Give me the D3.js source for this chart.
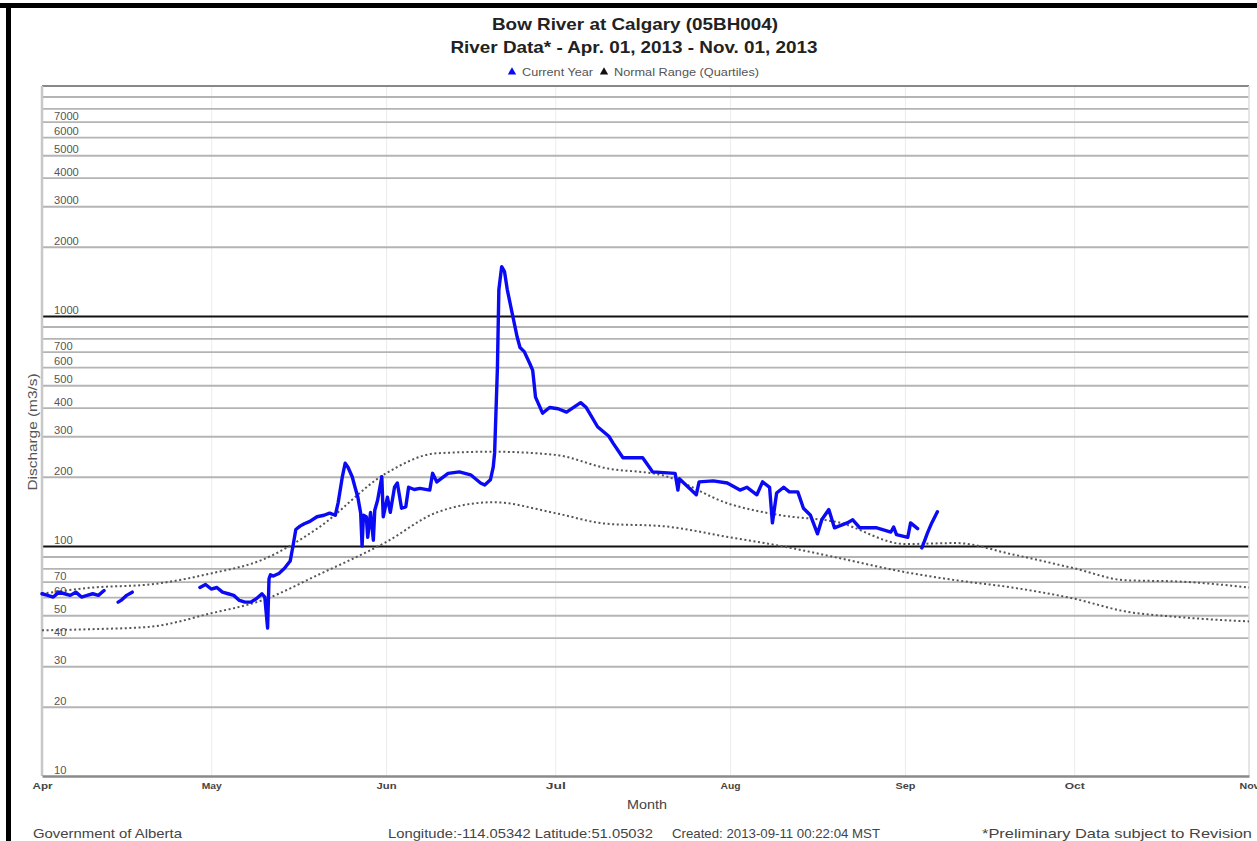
<!DOCTYPE html>
<html lang="en">
<head>
<meta charset="utf-8">
<title>Bow River at Calgary (05BH004)</title>
<script src="https://cdn.jsdelivr.net/npm/d3@7"></script>
<style>
  body { margin: 0; background: #fff; }
  svg { display: block; font-family: "Liberation Sans", Arial, sans-serif; }
</style>
</head>
<body>
<div id="chart"></div>
<script>
// ---- data ----
// current year discharge (m3/s); null marks a gap in the record
var flowTimes = [
  "2013-04-01 00","2013-04-02 00","2013-04-03 00","2013-04-04 00","2013-04-05 00","2013-04-06 00",
  "2013-04-07 00","2013-04-08 00","2013-04-09 00","2013-04-10 00","2013-04-11 00","2013-04-12 00",
  "2013-04-13 00",
  "2013-04-14 12","2013-04-15 00","2013-04-16 00","2013-04-17 00",
  "2013-04-22 00",
  "2013-04-29 00","2013-04-30 00","2013-05-01 00","2013-05-02 00","2013-05-03 00","2013-05-04 00",
  "2013-05-05 00","2013-05-06 00","2013-05-07 00","2013-05-08 00","2013-05-09 00","2013-05-10 00",
  "2013-05-10 12","2013-05-11 00","2013-05-11 06","2013-05-11 12","2013-05-12 00","2013-05-13 00",
  "2013-05-14 00","2013-05-15 00","2013-05-15 12","2013-05-16 00","2013-05-16 18","2013-05-17 12",
  "2013-05-18 12","2013-05-19 18","2013-05-21 00","2013-05-22 00","2013-05-23 00","2013-05-23 12",
  "2013-05-24 06","2013-05-24 18","2013-05-25 06","2013-05-26 00","2013-05-26 12","2013-05-27 00",
  "2013-05-27 12","2013-05-27 18","2013-05-28 00","2013-05-28 12","2013-05-28 18","2013-05-29 06",
  "2013-05-29 18","2013-05-30 00","2013-05-30 12","2013-05-31 06","2013-05-31 12","2013-06-01 06",
  "2013-06-01 18","2013-06-02 12","2013-06-03 00","2013-06-03 18","2013-06-04 12","2013-06-05 00",
  "2013-06-06 00","2013-06-07 00","2013-06-08 18","2013-06-09 06","2013-06-10 00","2013-06-12 00",
  "2013-06-14 00","2013-06-16 00","2013-06-17 18","2013-06-18 12","2013-06-19 12","2013-06-20 00",
  "2013-06-20 06","2013-06-20 18","2013-06-21 00","2013-06-21 12","2013-06-22 00","2013-06-22 12",
  "2013-06-23 12","2013-06-24 06","2013-06-24 18","2013-06-25 12","2013-06-26 12","2013-06-27 00",
  "2013-06-27 12","2013-06-28 18","2013-06-30 00","2013-07-01 12","2013-07-03 00","2013-07-05 12",
  "2013-07-06 12","2013-07-08 12","2013-07-10 12","2013-07-11 06","2013-07-13 00","2013-07-16 12",
  "2013-07-17 18","2013-07-18 06","2013-07-22 06","2013-07-22 18","2013-07-23 00","2013-07-26 00",
  "2013-07-26 12","2013-07-29 00","2013-07-31 12","2013-08-02 18","2013-08-04 00","2013-08-05 18",
  "2013-08-06 18","2013-08-08 00","2013-08-08 12","2013-08-09 06","2013-08-10 12","2013-08-11 12",
  "2013-08-13 00","2013-08-14 00","2013-08-15 06","2013-08-16 12","2013-08-17 06","2013-08-18 12",
  "2013-08-19 12","2013-08-21 18","2013-08-22 18","2013-08-24 00","2013-08-27 00","2013-08-29 12",
  "2013-08-30 00","2013-08-30 12","2013-09-01 12","2013-09-02 00","2013-09-03 06",
  "2013-09-03 18",
  "2013-09-04 00","2013-09-05 00","2013-09-05 18","2013-09-06 18"
];
var flowValues = [
  62, 61, 60, 63, 62, 61,
  63, 60, 61, 62, 61, 64,
  null,
  57, 58, 61, 63,
  null,
  66, 68, 65, 66, 63, 62,
  61, 58, 57, 57, 59, 62,
  60, 44, 72, 75, 74, 76,
  80, 86, 100, 118, 122, 125,
  128, 134, 136, 139, 136, 154,
  200, 229, 220, 200, 180, 163,
  139, 100, 136, 134, 109, 140,
  106, 143, 158, 200, 134, 163,
  140, 180, 188, 146, 148, 180,
  176, 178, 175, 207, 190, 207,
  210, 204, 188, 184, 194, 220,
  254, 600, 1300, 1640, 1560, 1300,
  990, 810, 730, 700, 620, 580,
  444, 378, 400, 395, 382, 420,
  400, 330, 300, 280, 242, 242,
  219, 210, 207, 175, 196, 167,
  190, 192, 188, 175, 180, 167,
  190, 180, 126, 170, 180, 172,
  172, 146, 136, 113, 130, 144,
  120, 126, 130, 120, 120, 115,
  121, 112, 109, 126, 119,
  null,
  98, 114, 126, 141
];

// normal range (quartiles)
var quartileDates = [
  "2013-04-01","2013-04-10","2013-04-20","2013-05-01","2013-05-10","2013-05-20",
  "2013-06-01","2013-06-10","2013-06-20","2013-07-01","2013-07-10","2013-07-20",
  "2013-08-01","2013-08-10","2013-08-20","2013-09-01","2013-09-10","2013-09-20",
  "2013-10-01","2013-10-10","2013-10-20","2013-11-01"
];
var upperQuartile = [62, 66, 68, 76, 87, 120, 207, 253, 257, 249, 218, 203, 152, 136, 127, 102, 103, 92, 80, 71, 70, 66];
var lowerQuartile = [43, 43.5, 44.5, 51, 58, 75, 104, 140, 155, 139, 125, 122, 109, 100, 89, 77, 71, 66, 59, 52, 49, 47];

var gridValues = [20, 30, 40, 50, 60, 70, 80, 90, 100, 200, 300, 400, 500, 600, 700, 800, 900,
                  1000, 2000, 3000, 4000, 5000, 6000, 7000, 8000, 9000];
var labelValues = [10, 20, 30, 40, 50, 60, 70, 100, 200, 300, 400, 500, 600, 700,
                   1000, 2000, 3000, 4000, 5000, 6000, 7000];
var majorValues = [100, 1000];
var monthStarts = ["2013-04-01","2013-05-01","2013-06-01","2013-07-01","2013-08-01",
                   "2013-09-01","2013-10-01","2013-11-01"];

// ---- layout ----
var width = 1257, height = 841;
var plot = { left: 42, right: 1249, top: 86, bottom: 776 };

var parseTime = d3.utcParse("%Y-%m-%d %H");
var parseDay = d3.utcParse("%Y-%m-%d");

var flow = flowTimes.map(function (t, i) { return { date: parseTime(t), value: flowValues[i] }; });
var upper = quartileDates.map(function (t, i) { return { date: parseDay(t), value: upperQuartile[i] }; });
var lower = quartileDates.map(function (t, i) { return { date: parseDay(t), value: lowerQuartile[i] }; });
var months = monthStarts.map(parseDay);

var x = d3.scaleUtc()
  .domain([months[0], months[months.length - 1]])
  .range([plot.left, plot.right]);
var y = d3.scaleLog()
  .domain([10, 10000])
  .range([plot.bottom, plot.top]);

var svg = d3.select("#chart").append("svg")
  .attr("width", width)
  .attr("height", height);

svg.append("rect").attr("width", width).attr("height", height).attr("fill", "#fff");

// the source image is a bit wider than its fonts, so text is stretched to the measured widths
function stretched(sel, len) {
  return sel.attr("textLength", len).attr("lengthAdjust", "spacingAndGlyphs");
}

// faint month gridlines
svg.append("g")
  .attr("transform", "translate(0," + plot.bottom + ")")
  .call(d3.axisBottom(x).tickValues(months.slice(1, -1)).tickSize(-(plot.bottom - plot.top)).tickFormat(""))
  .call(function (g) {
    g.select(".domain").remove();
    g.selectAll("line").attr("stroke", "#ececec").attr("stroke-width", 1);
  });

// horizontal gridlines (log)
svg.append("g")
  .attr("transform", "translate(" + plot.left + ",0)")
  .call(d3.axisLeft(y).tickValues(gridValues).tickSize(-(plot.right - plot.left)).tickFormat(""))
  .call(function (g) {
    g.select(".domain").remove();
    g.selectAll(".tick line")
      .attr("stroke", function (d) { return majorValues.indexOf(d) >= 0 ? "#111" : "#b4b4b4"; })
      .attr("stroke-width", function (d) { return majorValues.indexOf(d) >= 0 ? 2.2 : 1.8; });
  });

// plot frame: top, left, right
svg.append("line").attr("x1", plot.left).attr("x2", plot.right).attr("y1", plot.top).attr("y2", plot.top)
  .attr("stroke", "#888").attr("stroke-width", 2);
svg.append("line").attr("x1", plot.left).attr("x2", plot.left).attr("y1", plot.top).attr("y2", plot.bottom)
  .attr("stroke", "#c8c8c8").attr("stroke-width", 2.5);
svg.append("line").attr("x1", plot.right).attr("x2", plot.right).attr("y1", plot.top).attr("y2", plot.bottom)
  .attr("stroke", "#dcdcdc").attr("stroke-width", 1.5);

// y labels sit just above their gridline
svg.append("g").selectAll("text")
  .data(labelValues)
  .join("text")
  .attr("x", plot.left + 12)
  .attr("y", function (d) { return y(d) - 2; })
  .attr("font-size", 10)
  .attr("fill", "#555")
  .text(function (d) { return d; })
  .each(function (d) { stretched(d3.select(this), String(d).length * 6.2); });

// quartile lines
var qLine = d3.line()
  .x(function (d) { return x(d.date); })
  .y(function (d) { return y(d.value); })
  .curve(d3.curveMonotoneX);
[upper, lower].forEach(function (q) {
  svg.append("path")
    .datum(q)
    .attr("fill", "none")
    .attr("stroke", "#555")
    .attr("stroke-width", 2)
    .attr("stroke-dasharray", "2,2.6")
    .attr("d", qLine);
});

// current year
var flowLine = d3.line()
  .defined(function (d) { return d.value != null; })
  .x(function (d) { return x(d.date); })
  .y(function (d) { return y(d.value); });
svg.append("path")
  .datum(flow)
  .attr("fill", "none")
  .attr("stroke", "#0a0af5")
  .attr("stroke-width", 3.4)
  .attr("stroke-linejoin", "round")
  .attr("stroke-linecap", "round")
  .attr("d", flowLine);

// x axis
svg.append("g")
  .attr("transform", "translate(0," + plot.bottom + ")")
  .call(d3.axisBottom(x).tickValues(months).tickSize(0).tickPadding(7).tickFormat(d3.utcFormat("%b")))
  .call(function (g) {
    g.select(".domain").attr("stroke", "#8a8a8a").attr("stroke-width", 2.5);
    g.selectAll("text").attr("font-size", 8.5).attr("font-weight", "bold").attr("fill", "#444")
      .attr("font-family", "'Liberation Sans', Arial, sans-serif")
      .attr("textLength", 20).attr("lengthAdjust", "spacingAndGlyphs");
  });

// axis titles
stretched(svg.append("text")
  .attr("x", 647)
  .attr("y", 809)
  .attr("text-anchor", "middle")
  .attr("font-size", 13.5)
  .attr("fill", "#444")
  .text("Month"), 40);
stretched(svg.append("text")
  .attr("transform", "translate(37,432) rotate(-90)")
  .attr("text-anchor", "middle")
  .attr("font-size", 13.5)
  .attr("fill", "#555")
  .text("Discharge (m3/s)"), 117);

// titles
stretched(svg.append("text")
  .attr("x", 635).attr("y", 30)
  .attr("text-anchor", "middle")
  .attr("font-size", 16.5).attr("font-weight", "bold").attr("fill", "#222")
  .text("Bow River at Calgary (05BH004)"), 286);
stretched(svg.append("text")
  .attr("x", 634).attr("y", 53)
  .attr("text-anchor", "middle")
  .attr("font-size", 16.5).attr("font-weight", "bold").attr("fill", "#222")
  .text("River Data* - Apr. 01, 2013 - Nov. 01, 2013"), 367);

// legend
var legendItems = [
  { name: "Current Year", color: "#0a0af5", len: 71 },
  { name: "Normal Range (Quartiles)", color: "#111", len: 145 }
];
var legend = svg.append("g").attr("font-size", 10).attr("fill", "#555");
var lx = 508;
legendItems.forEach(function (item) {
  legend.append("path")
    .attr("transform", "translate(" + (lx + 4) + ",72)")
    .attr("d", d3.symbol(d3.symbolTriangle, 30)())
    .attr("fill", item.color);
  stretched(legend.append("text")
    .attr("x", lx + 14).attr("y", 75.5)
    .text(item.name), item.len);
  lx += 14 + item.len + 7;
});

// footer
stretched(svg.append("text")
  .attr("x", 33).attr("y", 838)
  .attr("font-size", 13.5).attr("fill", "#444")
  .text("Government of Alberta"), 149);
stretched(svg.append("text")
  .attr("x", 388).attr("y", 838)
  .attr("font-size", 13.5).attr("fill", "#444")
  .text("Longitude:-114.05342 Latitude:51.05032"), 265);
stretched(svg.append("text")
  .attr("x", 672).attr("y", 838)
  .attr("font-size", 13.5).attr("fill", "#444")
  .text("Created: 2013-09-11 00:22:04 MST"), 208);
stretched(svg.append("text")
  .attr("x", 982).attr("y", 838)
  .attr("font-size", 13.5).attr("fill", "#444")
  .text("*Preliminary Data subject to Revision"), 270);

// page frame (thick black top and left edges)
svg.append("rect").attr("x", 0).attr("y", 3).attr("width", width).attr("height", 5).attr("fill", "#000");
svg.append("rect").attr("x", 6).attr("y", 3).attr("width", 5).attr("height", height).attr("fill", "#000");
</script>
</body>
</html>
